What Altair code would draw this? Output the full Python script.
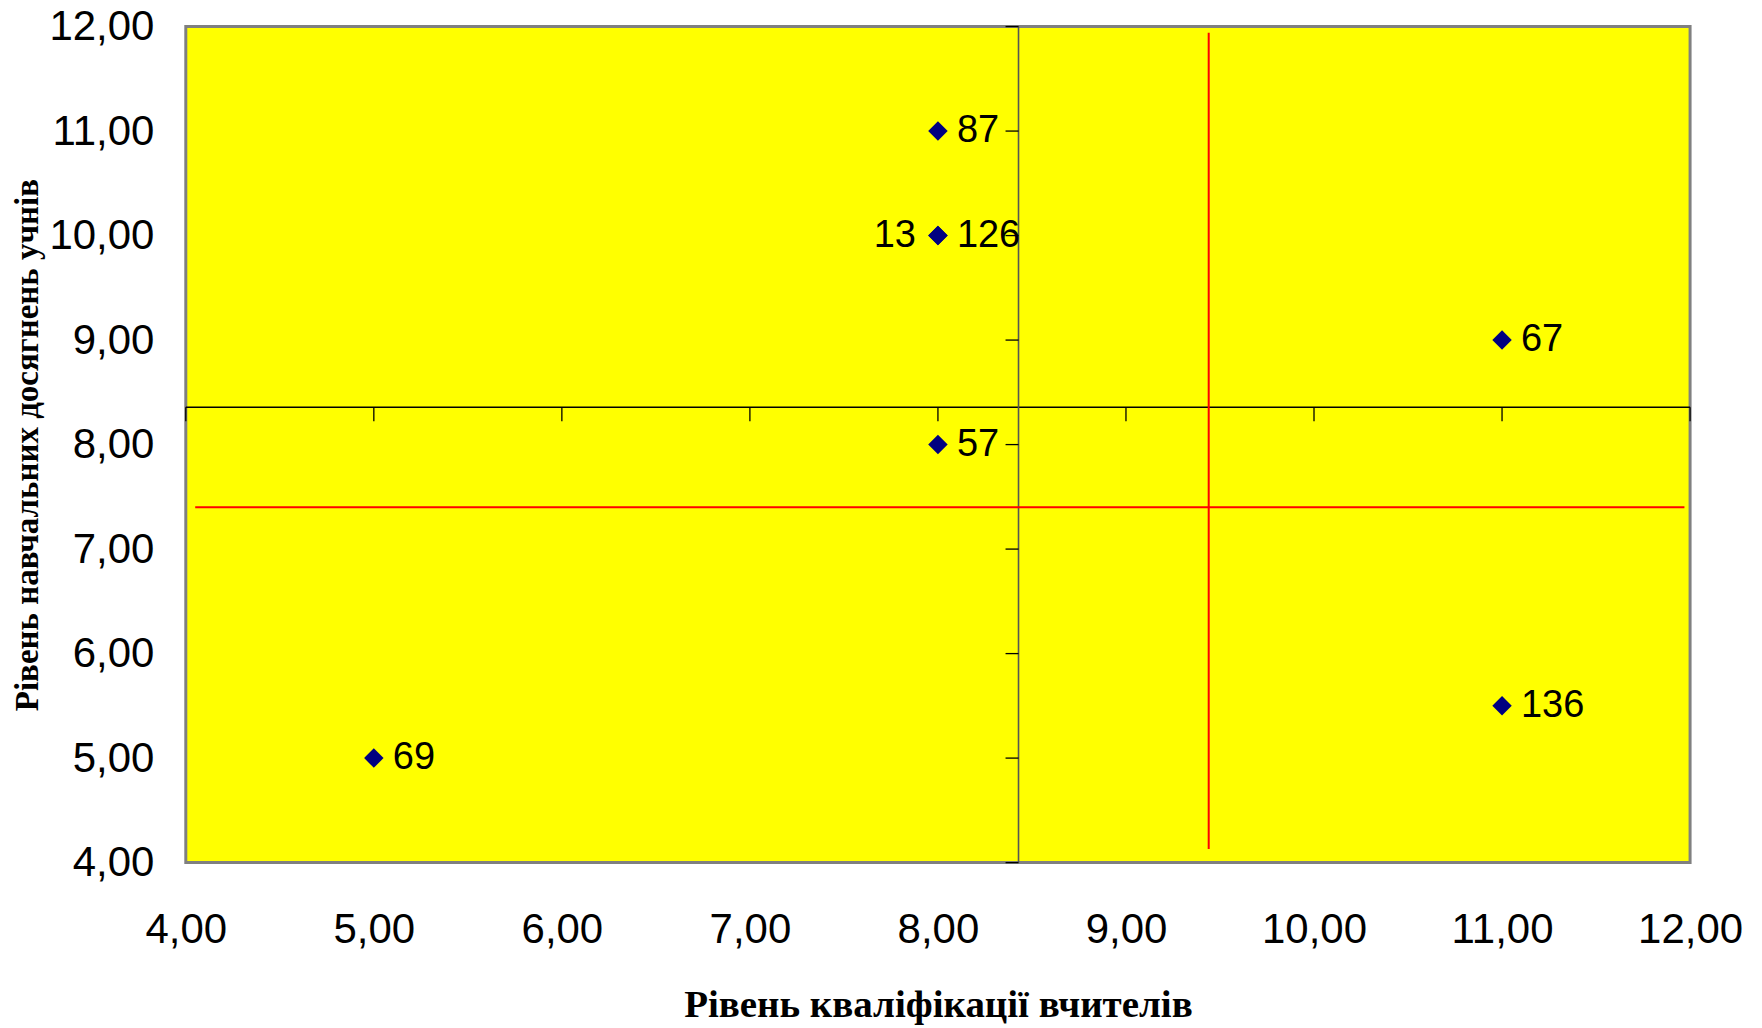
import altair as alt
import pandas as pd

# ---- data ----
point_labels = ["87", "13", "126", "57", "67", "136", "69"]
teacher_level = [8, 8, 8, 8, 11, 11, 5]
student_level = [11, 10, 10, 8, 9, 5.5, 5]
label_side = ["right", "left", "right", "right", "right", "right", "right"]

axis_ticks = [4, 5, 6, 7, 8, 9, 10, 11, 12]

red_x = 9.44
red_x_span = [4.13, 11.94]
red_y = 7.40
red_y_span = [4.05, 11.97]

W, H = 1506, 837

df = pd.DataFrame({"x": teacher_level, "y": student_level,
                   "label": point_labels, "side": label_side})
mean_x = float(df["x"].mean())
mean_y = float(df["y"].mean())

fmt = "replace(format(datum.value, '.2f'), '.', ',')"
xscale = alt.Scale(domain=[4, 12], nice=False, zero=False)
yscale = alt.Scale(domain=[4, 12], nice=False, zero=False)

x_axis = alt.Axis(values=axis_ticks, labelExpr=fmt, grid=False, domain=False,
                  ticks=False, labelPadding=47, labelFontSize=42,
                  labelFont="Liberation Sans", labelColor="black",
                  labelFlush=False, labelOverlap=False,
                  title="Рівень кваліфікації вчителів",
                  titleFont="Liberation Serif", titleFontSize=39,
                  titleFontWeight="bold", titleColor="black",
                  titleX=W / 2, titleY=142, titleBaseline="middle",
                  titleAlign="center")
y_axis = alt.Axis(values=axis_ticks, labelExpr=fmt, grid=False, domain=False,
                  ticks=False, labelPadding=32, labelFontSize=42,
                  labelFont="Liberation Sans", labelColor="black",
                  labelFlush=False, labelOverlap=False,
                  title="Рівень навчальних досягнень учнів",
                  titleFont="Liberation Serif", titleFontSize=33,
                  titleFontWeight="bold", titleColor="black",
                  titleX=-158, titleY=H / 2, titleAngle=270,
                  titleBaseline="middle", titleAlign="center")

X = lambda f="x": alt.X(f"{f}:Q", scale=xscale, axis=x_axis)
Y = lambda f="y": alt.Y(f"{f}:Q", scale=yscale, axis=y_axis)

mean_h = alt.Chart(pd.DataFrame({"y": [mean_y]})).mark_rule(
    color="black", strokeWidth=1.3).encode(y=Y())
mean_v = alt.Chart(pd.DataFrame({"x": [mean_x]})).mark_rule(
    color="#555555", strokeWidth=1.6).encode(x=X())

h_ticks = alt.Chart(pd.DataFrame({"x": axis_ticks, "y": [mean_y] * len(axis_ticks)})).mark_tick(
    orient="vertical", size=14, thickness=1.3, yOffset=7, color="black", opacity=1
).encode(x=X(), y=Y())
v_ticks = alt.Chart(pd.DataFrame({"x": [mean_x] * len(axis_ticks), "y": axis_ticks})).mark_tick(
    orient="horizontal", size=13, thickness=1.3, xOffset=-6.5, color="black", opacity=1
).encode(x=X(), y=Y())

red_v = alt.Chart(pd.DataFrame({"x": [red_x], "y": [red_x_span[1]], "y2": [red_x_span[0]]})).mark_rule(
    color="#FF0000", strokeWidth=2).encode(x=X(), y=Y(), y2="y2:Q")
red_h = alt.Chart(pd.DataFrame({"y": [red_y], "x": [red_y_span[0]], "x2": [red_y_span[1]]})).mark_rule(
    color="#FF0000", strokeWidth=2).encode(y=Y(), x=X(), x2="x2:Q")

points = alt.Chart(df).mark_point(
    shape="diamond", filled=True, size=380, color="#000080", opacity=1
).encode(x=X(), y=Y())

lab_r = alt.Chart(df).transform_filter("datum.side == 'right'").mark_text(
    align="left", baseline="middle", dx=19, fontSize=38, font="Liberation Sans", color="black"
).encode(x=X(), y=Y(), text="label:N")
lab_l = alt.Chart(df).transform_filter("datum.side == 'left'").mark_text(
    align="right", baseline="middle", dx=-22, fontSize=38, font="Liberation Sans", color="black"
).encode(x=X(), y=Y(), text="label:N")

chart = alt.layer(mean_h, mean_v, h_ticks, v_ticks, red_v, red_h, points, lab_r, lab_l).properties(
    width=W, height=H, autosize="none",
    padding={"left": 178, "top": 18, "right": 64, "bottom": 164},
    background="white"
).configure_view(fill="#FFFF00", stroke="#808080", strokeWidth=3)

chart.save("out.html", embed_options={"renderer": "svg", "actions": False})
